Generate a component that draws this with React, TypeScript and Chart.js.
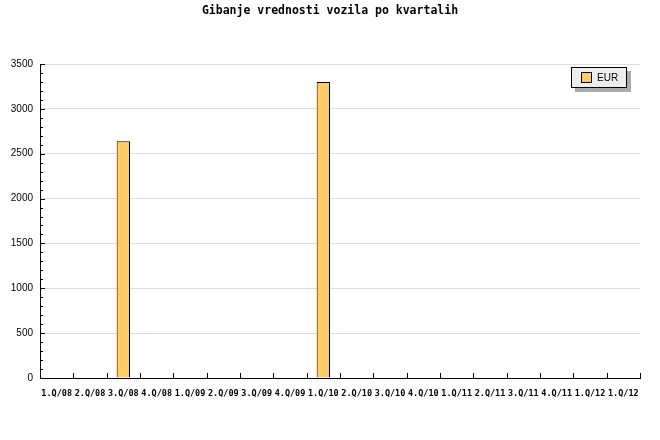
import React, { useEffect, useRef } from "react";
import { Chart, registerables } from "chart.js";

Chart.register(...registerables);

const TITLE = "Gibanje vrednosti vozila po kvartalih";
const CATEGORIES = [
  "1.Q/08", "2.Q/08", "3.Q/08", "4.Q/08",
  "1.Q/09", "2.Q/09", "3.Q/09", "4.Q/09",
  "1.Q/10", "2.Q/10", "3.Q/10", "4.Q/10",
  "1.Q/11", "2.Q/11", "3.Q/11", "4.Q/11",
  "1.Q/12", "1.Q/12",
];
const SERIES_NAME = "EUR";
const EUR_VALUES: (number | null)[] = [
  null, null, 2640, null,
  null, null, null, null,
  3300, null, null, null,
  null, null, null, null,
  null, null,
];
const Y_MIN = 0;
const Y_MAX = 3500;
const Y_STEP = 500;
const Y_MINOR_STEP = 100;

const BAR_COLOR = "#ffcc66";

const decorPlugin = {
  id: "decor",
  afterDraw(chart: any) {
    const ctx = chart.ctx as CanvasRenderingContext2D;
    const area = chart.chartArea;
    const y = chart.scales.y;
    ctx.save();
    // title
    ctx.fillStyle = "#000";
    ctx.font = "bold 11.5px 'DejaVu Sans Mono'";
    ctx.textAlign = "center";
    ctx.textBaseline = "middle";
    ctx.fillText(TITLE, 330, 11);
    // y minor/major ticks pointing inward
    ctx.strokeStyle = "#000";
    ctx.lineWidth = 1;
    ctx.beginPath();
    for (let v = Y_MIN; v <= Y_MAX; v += Y_MINOR_STEP) {
      const py = Math.round(y.getPixelForValue(v)) + 0.5;
      const len = v % Y_STEP === 0 ? 5 : 3;
      ctx.moveTo(area.left, py);
      ctx.lineTo(area.left + len, py);
    }
    // x ticks at category boundaries pointing up
    const n = CATEGORIES.length;
    const w = (area.right - area.left) / n;
    for (let i = 0; i <= n; i++) {
      const px = Math.round(area.left + i * w) + 0.5;
      ctx.moveTo(px, area.bottom);
      ctx.lineTo(px, area.bottom - 5);
    }
    ctx.stroke();
    // legend
    const lx = 571, ly = 67, lw = 56, lh = 21;
    ctx.fillStyle = "#aaaaaa";
    ctx.fillRect(lx + 4, ly + 4, lw, lh);
    ctx.fillStyle = "#eeeeee";
    ctx.fillRect(lx, ly, lw, lh);
    ctx.strokeStyle = "#000";
    ctx.strokeRect(lx + 0.5, ly + 0.5, lw - 1, lh - 1);
    ctx.fillStyle = BAR_COLOR;
    ctx.fillRect(581, 72, 11, 11);
    ctx.strokeRect(581.5, 72.5, 10, 10);
    ctx.fillStyle = "#000";
    ctx.font = "10px 'Liberation Sans', Arial, sans-serif";
    ctx.textAlign = "left";
    ctx.textBaseline = "middle";
    ctx.fillText(SERIES_NAME, 597, 78);
    ctx.restore();
  },
};

export default function App() {
  const ref = useRef<HTMLCanvasElement>(null);
  useEffect(() => {
    document.body.style.margin = "0";
    const chart = new Chart(ref.current!, {
      type: "bar",
      data: {
        labels: CATEGORIES,
        datasets: [
          {
            label: SERIES_NAME,
            data: EUR_VALUES,
            backgroundColor: BAR_COLOR,
            borderColor: "#000",
            borderWidth: 1,
            borderSkipped: "bottom",
            categoryPercentage: 1,
            barPercentage: 0.4,
          },
        ],
      },
      options: {
        responsive: false,
        animation: false,
        layout: { padding: { top: 64, right: 20, left: 0, bottom: 0 } },
        plugins: {
          legend: { display: false },
          title: { display: false },
          tooltip: { enabled: false },
        },
        scales: {
          x: {
            offset: true,
            grid: { display: false, drawTicks: false },
            border: { display: true, color: "#000", width: 1 },
            ticks: {
              color: "#000",
              font: { family: "'DejaVu Sans Mono'", size: 8.5, weight: "bold" },
              maxRotation: 0,
              autoSkip: false,
              padding: 11,
            },
            afterFit(scale: any) {
              scale.height = 62;
            },
          },
          y: {
            min: Y_MIN,
            max: Y_MAX,
            ticks: {
              stepSize: Y_STEP,
              color: "#000",
              font: { family: "'Liberation Sans', Arial, sans-serif", size: 10 },
              padding: 7,
              callback: (v: any) => String(v),
            },
            grid: { color: "#dddddd", drawTicks: false },
            border: { display: true, color: "#000", width: 1 },
            afterFit(scale: any) {
              scale.width = 40;
            },
          },
        },
      },
      plugins: [decorPlugin],
    });
    return () => chart.destroy();
  }, []);
  return (
    <div style={{ position: "absolute", left: 0, top: 0, width: 660, height: 440 }}>
      <canvas ref={ref} width={660} height={440} />
    </div>
  );
}
